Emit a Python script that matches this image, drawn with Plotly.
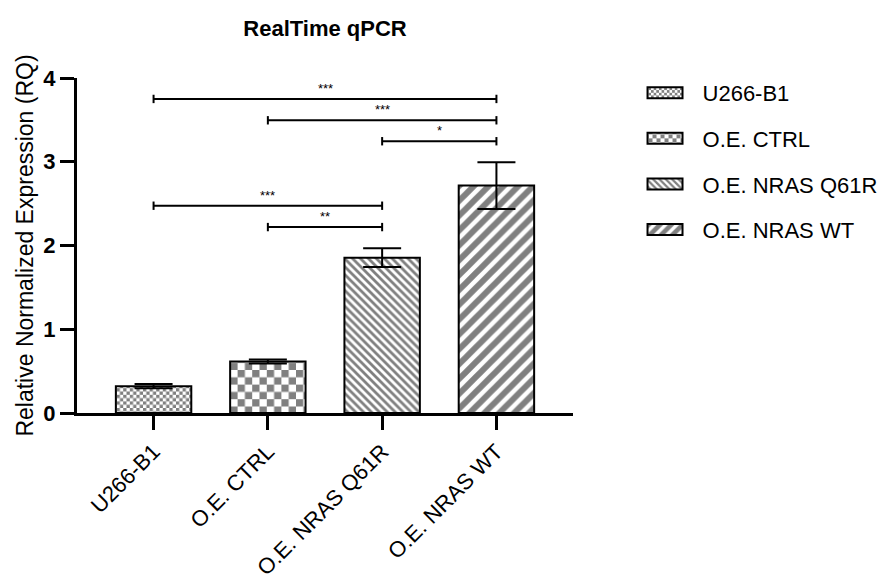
import plotly.graph_objects as go

# Relative expression (RQ) per sample, mean and error
categories = ["U266-B1", "O.E. CTRL", "O.E. NRAS Q61R", "O.E. NRAS WT"]
rq_mean = [0.32, 0.615, 1.855, 2.715]
rq_err = [0.025, 0.025, 0.112, 0.28]

# Significance comparisons: (left index, right index, bracket height, label)
comp_left = [0, 1, 2, 0, 1]
comp_right = [3, 3, 3, 2, 2]
comp_height = [3.75, 3.495, 3.245, 2.475, 2.22]
comp_label = ["***", "***", "*", "***", "**"]

y_ticks = [0, 1, 2, 3, 4]

FONT = "Arial, Liberation Sans, sans-serif"
GRAY = "#808080"

# fill texture for each sample; the '+' tiles become checkerboards
fills = [
    dict(shape="+", size=6.6, solidity=0.5),
    dict(shape="+", size=14.6, solidity=0.5),
    dict(shape="\\", size=5.6, solidity=0.5),
    dict(shape="/", size=10.5, solidity=0.58),
]

fig = go.Figure()

for i, name in enumerate(categories):
    fig.add_trace(go.Bar(
        x=[name], y=[rq_mean[i]], name=name,
        width=0.66,
        marker=dict(
            color="white",
            line=dict(color="black", width=2),
            pattern=dict(fgcolor=GRAY, bgcolor="white", fillmode="replace", **fills[i]),
        ),
        error_y=dict(type="data", array=[rq_err[i]], color="black", thickness=2, width=19),
        legendgroup=name,
        hoverinfo="skip",
    ))

# significance brackets with small end ticks
tick_h = 0.05
bx, by = [], []
for a, b, h in zip(comp_left, comp_right, comp_height):
    xa, xb = categories[a], categories[b]
    bx += [xa, xa, None, xa, xb, None, xb, xb, None]
    by += [h - tick_h, h + tick_h, None, h, h, None, h - tick_h, h + tick_h, None]
fig.add_trace(go.Scatter(
    x=bx, y=by, mode="lines", line=dict(color="black", width=2),
    showlegend=False, hoverinfo="skip",
))

for a, b, h, lab in zip(comp_left, comp_right, comp_height, comp_label):
    fig.add_annotation(
        x=(a + b) / 2, y=h, text=lab, showarrow=False,
        yanchor="bottom", yshift=1,
        font=dict(family=FONT, size=13, color="black"),
    )

fig.update_layout(
    width=879, height=577,
    margin=dict(l=77, r=306, t=78, b=164, autoexpand=False),
    paper_bgcolor="white", plot_bgcolor="white",
    font=dict(family=FONT, color="black"),
    barmode="overlay",
    title=dict(
        text="<b>RealTime qPCR</b>", x=0.5, xref="paper", xanchor="center",
        y=1 - 28 / 577, yref="container", yanchor="middle",
        font=dict(family=FONT, size=22, color="black"),
    ),
    xaxis=dict(
        type="category", categoryorder="array", categoryarray=categories,
        range=[-0.67, 3.67], automargin=False,
        showline=True, linecolor="black", linewidth=3,
        ticks="outside", ticklen=14, tickwidth=3, tickcolor="black",
        tickangle=-45, tickfont=dict(family=FONT, size=22, color="black"),
        showgrid=False, zeroline=False,
    ),
    yaxis=dict(
        range=[0, 4], tickvals=y_ticks, automargin=False,
        showline=True, linecolor="black", linewidth=3,
        ticks="outside", ticklen=14, tickwidth=3, tickcolor="black",
        tickfont=dict(family=FONT, size=22, color="black", weight="bold"),
        showgrid=False, zeroline=False,
        title=dict(text="Relative Normalized Expression (RQ)",
                   font=dict(family=FONT, size=23, color="black"), standoff=4),
    ),
    legend=dict(
        x=1.12, xanchor="left", y=1.018, yanchor="top",
        font=dict(family=FONT, size=22, color="black"),
        itemwidth=60, tracegroupgap=14,
        bgcolor="rgba(0,0,0,0)",
    ),
    showlegend=True,
)

# turn the '+' tiles into checkerboards and widen the legend swatches
post = """
(function () {
  var gd = document.getElementById('{plot_id}');
  if (!gd) return;
  var checkSizes = [6.6, 14.6];
  function isPlusTile(p, path) {
    var s = parseFloat(p.getAttribute('width'));
    for (var i = 0; i < checkSizes.length; i++) {
      if (Math.abs(s - checkSizes[i]) < 0.05) return true;
    }
    var d = path.getAttribute('d') || '';
    if (path.getAttribute('data-ck')) return true;
    return d.indexOf('l') < 0 && d.indexOf('-') < 0 && (d.match(/M/g) || []).length === 2;
  }
  function restyleFills() {
    var pats = gd.querySelectorAll('pattern');
    for (var i = 0; i < pats.length; i++) {
      var p = pats[i];
      var path = p.querySelector('path');
      if (!path) continue;
      if (!isPlusTile(p, path)) continue;
      var s = parseFloat(p.getAttribute('width'));
      if (!(s > 0)) continue;
      var h = s / 2;
      var nd = 'M0,0H' + h + 'V' + h + 'H0Z M' + h + ',' + h + 'H' + s + 'V' + s + 'H' + h + 'Z';
      if (path.getAttribute('d') === nd) continue;
      path.setAttribute('d', nd);
      path.setAttribute('data-ck', '1');
      path.setAttribute('stroke', 'none');
      path.setAttribute('stroke-width', '0');
      path.setAttribute('fill', '#808080');
      path.style.stroke = 'none';
      path.style.strokeWidth = '0';
      path.style.fill = '#808080';
    }
    var trs = gd.querySelectorAll('.legend .traces');
    for (var j = 0; j < trs.length; j++) {
      var t = trs[j].querySelector('text.legendtext');
      if (!t) continue;
      var tx = parseFloat(t.getAttribute('x'));
      if (!(tx > 0)) continue;
      var sw = 'M' + (tx - 20) + ',5.5H' + (tx - 55) + 'V-5.5H' + (tx - 20) + 'Z';
      var pts = trs[j].querySelectorAll('.legendpoints path');
      for (var k = 0; k < pts.length; k++) {
        if (pts[k].getAttribute('d') === sw) continue;
        pts[k].removeAttribute('transform');
        pts[k].setAttribute('d', sw);
      }
    }
  }
  restyleFills();
  if (gd.on) gd.on('plotly_afterplot', restyleFills);
  [0, 50, 200, 500, 1000].forEach(function (ms) { setTimeout(restyleFills, ms); });
})();
"""

fig.write_html("out.html", post_script=post)
